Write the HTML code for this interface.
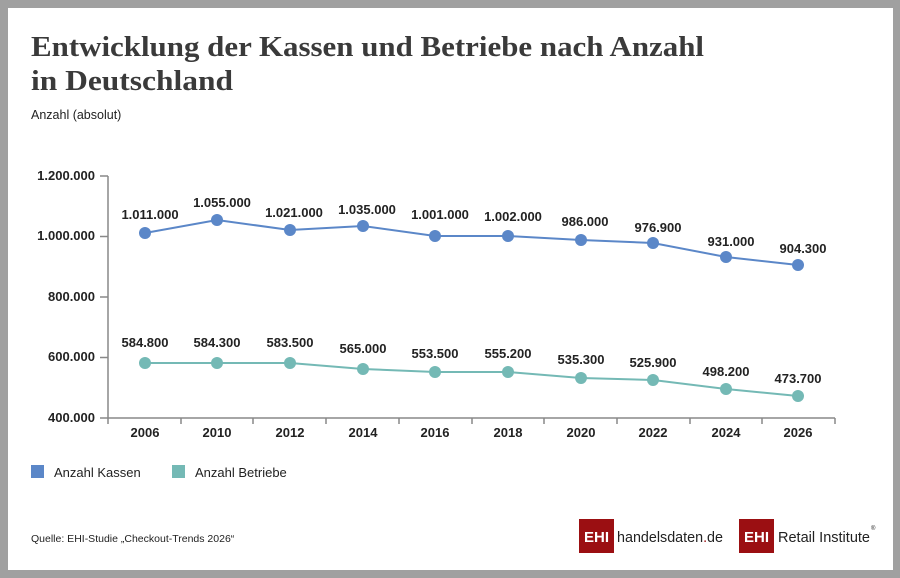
<!DOCTYPE html>
<html><head><meta charset="utf-8"><style>
body{margin:0;background:#a0a0a0;}
.f{position:absolute;left:8px;top:8px;width:885px;height:562px;background:#fff;}
svg{position:absolute;left:0;top:0}
</style></head><body>
<div style="position:relative;width:900px;height:578px;overflow:hidden;background:#a0a0a0">
<div class="f"></div>
<svg width="900" height="578" font-family="Liberation Sans, sans-serif">
<text x="31" y="56" font-family="Liberation Serif, serif" font-weight="bold" font-size="29" fill="#3a3a3a" textLength="673" lengthAdjust="spacingAndGlyphs">Entwicklung der Kassen und Betriebe nach Anzahl</text>
<text x="31" y="90" font-family="Liberation Serif, serif" font-weight="bold" font-size="29" fill="#3a3a3a" textLength="202" lengthAdjust="spacingAndGlyphs">in Deutschland</text>
<text x="31" y="119" font-size="12.5" fill="#222">Anzahl (absolut)</text>
<g font-size="13" font-weight="bold" fill="#222" text-anchor="end">
<text x="95" y="180">1.200.000</text><text x="95" y="240">1.000.000</text><text x="95" y="301">800.000</text><text x="95" y="361">600.000</text><text x="95" y="422">400.000</text>
</g>
<g stroke="#888" stroke-width="1.5" fill="none">
<path d="M108 176V418H835"/>
<path d="M100 176H108M100 236.5H108M100 297H108M100 357.5H108M100 418H108"/>
<path d="M108 418v6M181 418v6M253 418v6M326 418v6M399 418v6M472 418v6M544 418v6M617 418v6M690 418v6M762 418v6M835 418v6"/>
</g>
<g font-size="13" font-weight="bold" fill="#222" text-anchor="middle">
<text x="145" y="437">2006</text><text x="217" y="437">2010</text><text x="290" y="437">2012</text><text x="363" y="437">2014</text><text x="435" y="437">2016</text><text x="508" y="437">2018</text><text x="581" y="437">2020</text><text x="653" y="437">2022</text><text x="726" y="437">2024</text><text x="798" y="437">2026</text>
</g>
<polyline fill="none" stroke="#5b87c8" stroke-width="2" points="145,233 217,220 290,230 363,226 435,236 508,236 581,240 653,243 726,257 798,265"/>
<g fill="#5b87c8"><circle cx="145" cy="233" r="6"/><circle cx="217" cy="220" r="6"/><circle cx="290" cy="230" r="6"/><circle cx="363" cy="226" r="6"/><circle cx="435" cy="236" r="6"/><circle cx="508" cy="236" r="6"/><circle cx="581" cy="240" r="6"/><circle cx="653" cy="243" r="6"/><circle cx="726" cy="257" r="6"/><circle cx="798" cy="265" r="6"/></g>
<polyline fill="none" stroke="#74b9b5" stroke-width="2" points="145,363 217,363 290,363 363,369 435,372 508,372 581,378 653,380 726,389 798,396"/>
<g fill="#74b9b5"><circle cx="145" cy="363" r="6"/><circle cx="217" cy="363" r="6"/><circle cx="290" cy="363" r="6"/><circle cx="363" cy="369" r="6"/><circle cx="435" cy="372" r="6"/><circle cx="508" cy="372" r="6"/><circle cx="581" cy="378" r="6"/><circle cx="653" cy="380" r="6"/><circle cx="726" cy="389" r="6"/><circle cx="798" cy="396" r="6"/></g>
<g font-size="13" font-weight="bold" fill="#222" text-anchor="middle">
<text x="150" y="219">1.011.000</text><text x="222" y="207">1.055.000</text><text x="294" y="217">1.021.000</text><text x="367" y="214">1.035.000</text><text x="440" y="219">1.001.000</text><text x="513" y="221">1.002.000</text><text x="585" y="226">986.000</text><text x="658" y="232">976.900</text><text x="731" y="246">931.000</text><text x="803" y="253">904.300</text>
<text x="145" y="347">584.800</text><text x="217" y="347">584.300</text><text x="290" y="347">583.500</text><text x="363" y="353">565.000</text><text x="435" y="358">553.500</text><text x="508" y="358">555.200</text><text x="581" y="364">535.300</text><text x="653" y="367">525.900</text><text x="726" y="376">498.200</text><text x="798" y="383">473.700</text>
</g>
<rect x="31" y="465" width="13" height="13" fill="#5b87c8"/><text x="54" y="477" font-size="13" fill="#222">Anzahl Kassen</text>
<rect x="172" y="465" width="13" height="13" fill="#74b9b5"/><text x="195" y="477" font-size="13" fill="#222">Anzahl Betriebe</text>
<text x="31" y="542" font-size="10.5" fill="#222">Quelle: EHI-Studie „Checkout-Trends 2026“</text>
<rect x="579" y="519" width="35" height="34" fill="#9b0f12"/><text x="596.5" y="542" font-size="15" font-weight="bold" fill="#fff" text-anchor="middle">EHI</text>
<text x="617" y="542" font-size="15" fill="#222" textLength="106" lengthAdjust="spacingAndGlyphs">handelsdaten<tspan fill="#9b0f12">.</tspan>de</text>
<rect x="739" y="519" width="35" height="34" fill="#9b0f12"/><text x="756.5" y="542" font-size="15" font-weight="bold" fill="#fff" text-anchor="middle">EHI</text>
<text x="778" y="542" font-size="15" fill="#222" textLength="92" lengthAdjust="spacingAndGlyphs">Retail Institute</text>
<text x="871" y="530" font-size="6" fill="#222">®</text>
</svg>
</div>
</body></html>
